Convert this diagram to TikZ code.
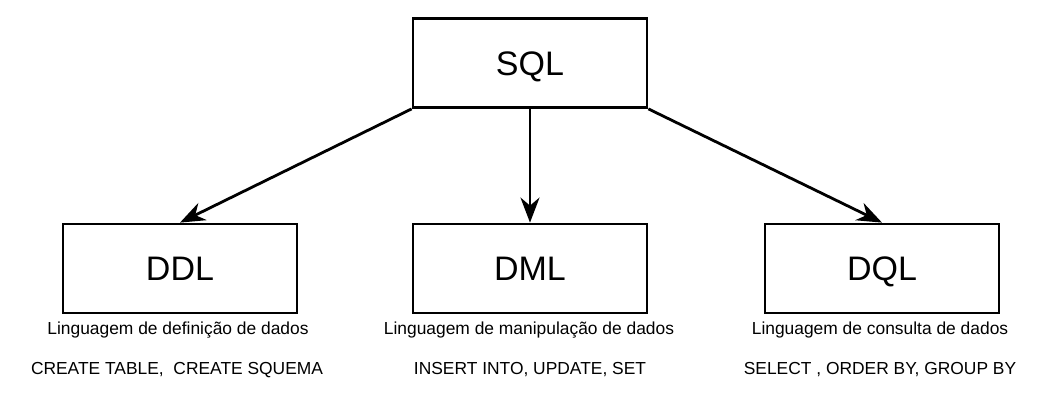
\documentclass[tikz,border=0pt]{standalone}
\usepackage{fontspec}
\setmainfont{Liberation Sans}
\usetikzlibrary{arrows.meta}
\begin{document}
\begin{tikzpicture}[x=1pt,y=-1pt,
  box/.style={draw, line width=2.8pt, minimum width=234pt, minimum height=89pt, inner sep=0pt, text height=24pt, text depth=0pt, font=\fontsize{34}{40}\selectfont},
  lbl/.style={inner sep=0pt, font=\fontsize{17.4}{20}\selectfont},
  conn/.style={line width=2.8pt, -{Stealth[length=25pt, width=19pt, inset=8pt]}}]
\useasboundingbox (0,0) rectangle (1050,410);
\node[box] (sql) at (530,63) {SQL};
\node[box] (ddl) at (180,268.5) {DDL};
\node[box] (dml) at (530,268.5) {DML};
\node[box] (dql) at (882,268.5) {DQL};
\node[lbl] (ddl1) at (178,330) {Linguagem de definição de dados};
\node[lbl] (ddl2) at (177,370) {CREATE TABLE,\ \ CREATE SQUEMA};
\node[lbl] (dml1) at (529,330) {Linguagem de manipulação de dados};
\node[lbl] (dml2) at (530,370) {INSERT INTO, UPDATE, SET};
\node[lbl] (dql1) at (880,330) {Linguagem de consulta de dados};
\node[lbl] (dql2) at (880,370) {SELECT , ORDER BY, GROUP BY};
\draw[conn] (sql.south west) -- (ddl.north);
\draw[conn] (sql.south) -- (dml.north);
\draw[conn] (sql.south east) -- (dql.north);
\end{tikzpicture}
\end{document}
